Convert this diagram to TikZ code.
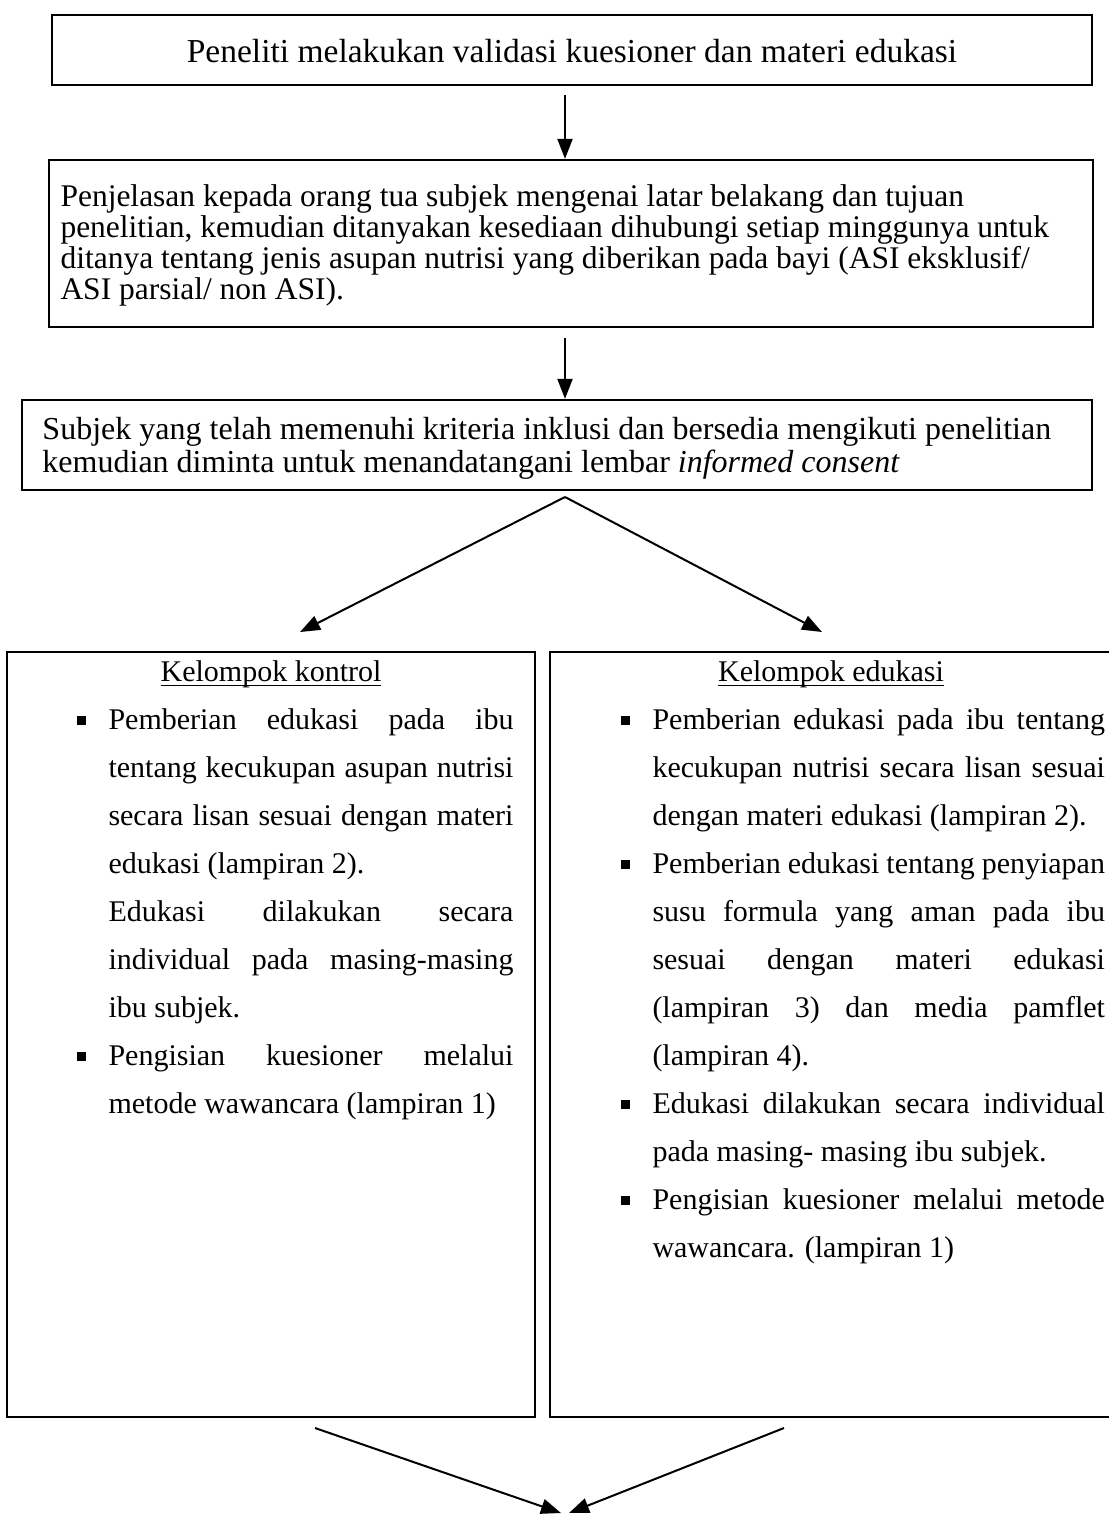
\documentclass[tikz,border=0pt]{standalone}
\usepackage{fontspec}
\setmainfont{Liberation Serif}
\usetikzlibrary{arrows.meta,fit}
\newcommand{\jl}[1]{\makebox[\linewidth][s]{#1}}
\newcommand{\bul}{\leavevmode\llap{\rule[1.6pt]{3.6pt}{3.6pt}\hspace{9.2pt}}}
\newcommand{\ulx}[1]{\setbox0\hbox{#1}\rlap{\rule[-2pt]{\wd0}{0.55pt}}\box0}
\begin{document}
\begin{tikzpicture}[x=0.4pt,y=-0.4pt,
  box/.style={draw, line width=0.9pt, inner sep=0pt},
  txt/.style={inner sep=0pt, anchor=base west},
  arr/.style={line width=0.8pt, -{Triangle[length=8pt,width=6pt]}},
  ln/.style={line width=0.8pt}]
\useasboundingbox (0,0) rectangle (1108,1514);

% boxes
\node[box, fit={(52,15) (1092,85)}] (b1) {};
\node[box, fit={(49,160) (1093,327)}] (b2) {};
\node[box, fit={(22,400) (1092,490)}] (b3) {};
\node[box, fit={(7,652) (535,1417)}] (b4) {};
\node[box, fit={(550,652) (1116,1417)}] (b5) {};

% texts
\node[inner sep=0pt, font=\fontsize{13.4}{13.4}\selectfont] (t1) at (572,51)
  {Peneliti melakukan validasi kuesioner dan materi edukasi};

\node[txt] (t2) at (60,206) {\parbox[t]{430pt}{\fontsize{12.6}{12.4}\selectfont\raggedright
Penjelasan kepada orang tua subjek mengenai latar belakang dan tujuan\\
penelitian, kemudian ditanyakan kesediaan dihubungi setiap minggunya untuk\\
ditanya tentang jenis asupan nutrisi yang diberikan pada bayi (ASI eksklusif/\\
ASI parsial/ non ASI).}};

\node[txt] (t3) at (42,439) {\parbox[t]{430pt}{\fontsize{12.8}{13.2}\selectfont\raggedright
Subjek yang telah memenuhi kriteria inklusi dan bersedia mengikuti penelitian\\
kemudian diminta untuk menandatangani lembar \textit{informed consent}}};

\node[inner sep=0pt, anchor=base, font=\fontsize{12}{12}\selectfont] (h4) at (271,681)
  {\ulx{Kelompok kontrol}};
\node[inner sep=0pt, anchor=base, font=\fontsize{12}{12}\selectfont] (h5) at (831,681)
  {\ulx{Kelompok edukasi}};

\node[txt] (t4) at (108,729) {\parbox[t]{162pt}{\fontsize{12}{19.2}\selectfont
\bul\jl{Pemberian edukasi pada ibu}\\
\jl{tentang kecukupan asupan nutrisi}\\
\jl{secara lisan sesuai dengan materi}\\
edukasi (lampiran 2).\\
\jl{Edukasi dilakukan secara}\\
\jl{individual pada masing-masing}\\
ibu subjek.\\
\bul\jl{Pengisian kuesioner melalui}\\
metode wawancara (lampiran 1)}};

\node[txt] (t5) at (652,729) {\parbox[t]{181pt}{\fontsize{12}{19.2}\selectfont
\bul\jl{Pemberian edukasi pada ibu tentang}\\
\jl{kecukupan nutrisi secara lisan sesuai}\\
dengan materi edukasi (lampiran 2).\\
\bul\jl{Pemberian edukasi tentang penyiapan}\\
\jl{susu formula yang aman pada ibu}\\
\jl{sesuai dengan materi edukasi}\\
\jl{(lampiran 3) dan media pamflet}\\
(lampiran 4).\\
\bul\jl{Edukasi dilakukan secara individual}\\
pada masing- masing ibu subjek.\\
\bul\jl{Pengisian kuesioner melalui metode}\\
wawancara. (lampiran 1)}};

% connectors
\coordinate (a1) at (565,95);
\coordinate (a2) at (565,338);
\draw[arr] (a1) -- (a1 |- b2.north);
\draw[arr] (a2) -- (a2 |- b3.north);

\coordinate (apex) at (565,497);
\coordinate (tipL) at (300,632);
\coordinate (tipR) at (822,632);
\draw[arr] (apex) -- (tipL);
\draw[arr] (apex) -- (tipR);

\coordinate (sL) at (315,1428);
\coordinate (sR) at (784,1428);
\coordinate (eL) at (561,1513);
\coordinate (eR) at (569,1513);
\draw[arr] (sL) -- (eL);
\draw[arr] (sR) -- (eR);
\end{tikzpicture}
\end{document}
